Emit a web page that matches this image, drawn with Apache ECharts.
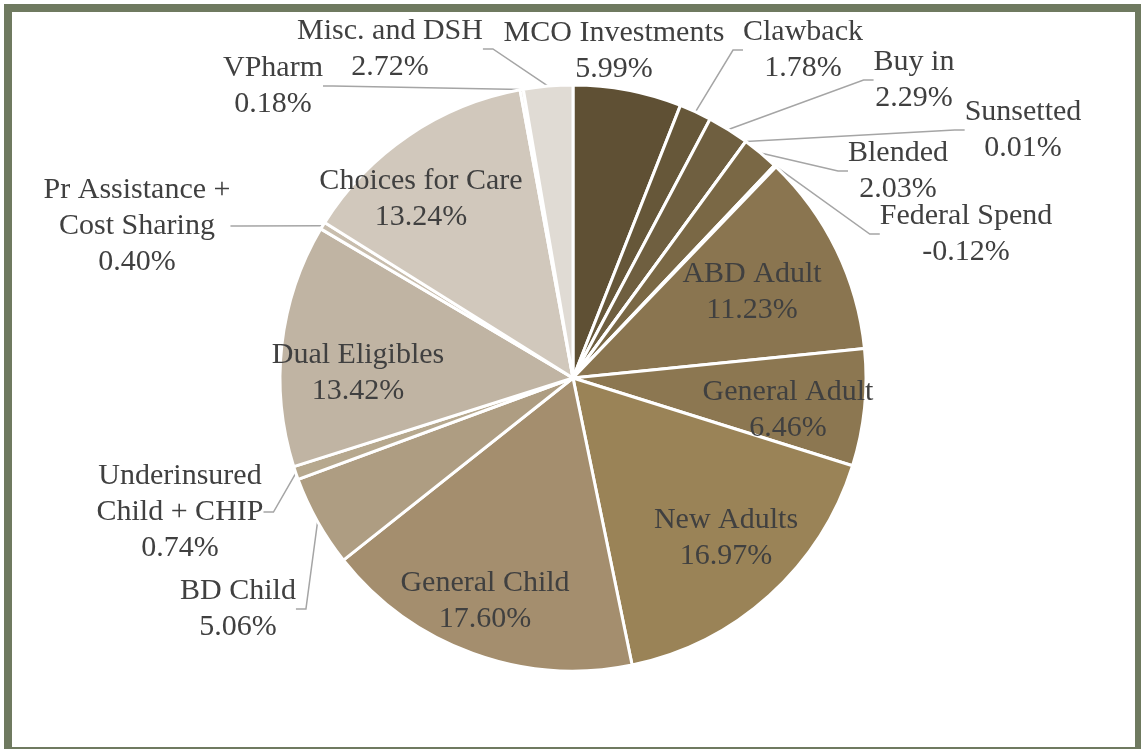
<!DOCTYPE html>
<html><head><meta charset="utf-8">
<script src="https://cdn.jsdelivr.net/npm/echarts@6/dist/echarts.min.js"></script>
<style>html,body{margin:0;padding:0;background:#fff}#c{width:1141px;height:749px}</style>
</head><body><div id="c"></div>
<script>
// ---- data ----
const categories = ['MCO Investments','Clawback','Buy in','Sunsetted','Blended','Federal Spend','ABD Adult','General Adult','New Adults','General Child','BD Child','Underinsured\nChild + CHIP','Dual Eligibles','Pr Assistance +\nCost Sharing','Choices for Care','VPharm','Misc. and DSH'];
const shares = [5.99, 1.78, 2.29, 0.01, 2.03, -0.12, 11.23, 6.46, 16.97, 17.60, 5.06, 0.74, 13.42, 0.40, 13.24, 0.18, 2.72];

// ---- styling / layout (kept separate from the data) ----
const sliceColors = ['#5f5034','#665739','#6f5f40','#736242','#7a6845','#806d48','#8a7550','#8c7751','#9a8357','#a48e6e','#ae9d82','#b6a88e','#c0b4a3','#c8bdad','#d1c8bc','#d8d1c6','#e0dbd4'];
const insideLabel = [false,false,false,false,false,false,true,true,true,true,false,false,true,false,true,false,false];
const showLeader  = [false,true,true,true,true,true,false,false,false,false,true,true,false,true,false,true,true];
const labelCenters = [[614,51],[803,50],[914,80],[1023,130],[898,171],[966,234],[752,292],[788,410],[726,538],[485,601],[238,609],[180,512],[358,373],[137,226],[421,199],[273,86],[390,49]];

const chart = echarts.init(document.getElementById('c'), null, {renderer: 'canvas'});
// Pie slices use the magnitude (as the source spreadsheet does); labels show the signed share.
const pieData = categories.map((name, i) => ({
  name: name,
  value: Math.abs(shares[i]),
  signed: shares[i],
  itemStyle: {color: sliceColors[i]},
  label: {position: insideLabel[i] ? 'inside' : 'outside'},
  labelLine: {show: showLeader[i]}
}));

chart.setOption({
  animation: false,
  backgroundColor: '#ffffff',
  graphic: [{
    type: 'rect', silent: true,
    shape: {x: 8, y: 8, width: 1131, height: 743},
    style: {fill: 'none', stroke: '#6f7a60', lineWidth: 8}
  }],
  series: [{
    type: 'pie',
    center: [573, 378],
    radius: [0, 293],
    startAngle: 90,
    clockwise: true,
    avoidLabelOverlap: false,
    emphasis: {disabled: true},
    itemStyle: {borderColor: '#ffffff', borderWidth: 3},
    label: {
      show: true,
      fontFamily: '"Liberation Serif", "DejaVu Serif", serif',
      fontSize: 30,
      lineHeight: 36,
      color: '#404040',
      align: 'center',
      formatter: p => p.name + '\n' + p.data.signed.toFixed(2) + '%'
    },
    labelLine: {
      length: 10,
      length2: 10,
      lineStyle: {color: '#a5a5a5', width: 1.5}
    },
    labelLayout: function (params) {
      const c = labelCenters[params.dataIndex];
      return {x: c[0], y: c[1], align: 'center', verticalAlign: 'middle'};
    },
    data: pieData
  }]
});
</script>
</body></html>
